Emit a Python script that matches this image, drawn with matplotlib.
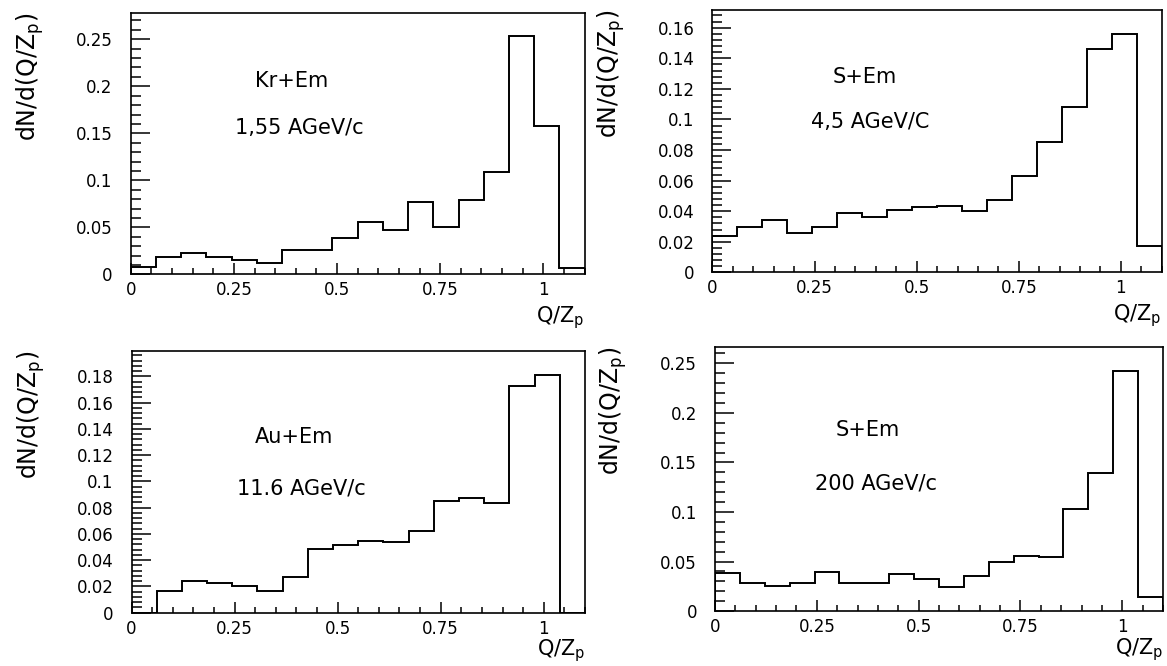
import matplotlib
matplotlib.use("Agg")
import matplotlib.pyplot as plt
from matplotlib.ticker import MultipleLocator, FuncFormatter
import numpy as np

plt.rcParams.update({"font.family": "DejaVu Sans", "mathtext.default": "regular"})

# 18 bins of Q/Z_p between 0 and 1.1
edges = np.linspace(0.0, 1.1, 19)

kr_155 = [0.008, 0.018, 0.023, 0.019, 0.015, 0.012, 0.026, 0.026, 0.039,
          0.056, 0.047, 0.077, 0.050, 0.079, 0.109, 0.253, 0.158, 0.007]
s_45 = [0.0236, 0.0297, 0.034, 0.0258, 0.0297, 0.0389, 0.0365, 0.0406, 0.0428,
        0.0437, 0.040, 0.0476, 0.0629, 0.0851, 0.108, 0.1458, 0.156, 0.017]
au_116 = [0.0, 0.0169, 0.024, 0.0228, 0.0207, 0.0167, 0.027, 0.0485, 0.0518,
          0.0546, 0.0538, 0.0624, 0.0852, 0.0877, 0.0839, 0.1724, 0.1812, 0.0]
s_200 = [0.0389, 0.0288, 0.025, 0.0288, 0.0399, 0.0288, 0.0288, 0.0376, 0.0328,
         0.0247, 0.0355, 0.0497, 0.0558, 0.0541, 0.1028, 0.1397, 0.242, 0.0142]

reactions = ["Kr+Em", "S+Em", "Au+Em", "S+Em"]
momenta = ["1,55 AGeV/c", "4,5 AGeV/C", "11.6 AGeV/c", "200 AGeV/c"]
series = [kr_155, s_45, au_116, s_200]
y_major = [0.05, 0.02, 0.02, 0.05]
y_minor = [0.01, 0.004, 0.004, 0.01]

# axes boxes [left, bottom, width, height] in figure fractions
boxes = [
    [0.112, 0.588, 0.389, 0.393],
    [0.6105, 0.591, 0.385, 0.394],
    [0.1127, 0.08, 0.3886, 0.393],
    [0.6127, 0.0825, 0.3839, 0.396],
]
# text positions (axes fractions, centred)
reac_pos = [(0.355, 0.737), (0.339, 0.746), (0.359, 0.673), (0.342, 0.687)]
mom_pos = [(0.371, 0.559), (0.351, 0.575), (0.374, 0.473), (0.359, 0.482)]
ylab_x = [-0.222, -0.226, -0.222, -0.228]
xlab_y = [-0.115, -0.115, -0.095, -0.095]

fig = plt.figure(figsize=(11.67, 6.66), dpi=100)
fmt = FuncFormatter(lambda v, pos: "%g" % round(v, 4))

for i in range(4):
    ax = fig.add_axes(boxes[i])
    vals = np.array(series[i])
    ax.stairs(vals, edges, color="black", lw=1.4, baseline=0)
    ax.set_xlim(0, 1.1)
    ax.set_ylim(0, 1.1 * vals.max())

    ax.xaxis.set_major_locator(MultipleLocator(0.25))
    ax.xaxis.set_minor_locator(MultipleLocator(0.05))
    ax.yaxis.set_major_locator(MultipleLocator(y_major[i]))
    ax.yaxis.set_minor_locator(MultipleLocator(y_minor[i]))
    ax.xaxis.set_major_formatter(fmt)
    ax.yaxis.set_major_formatter(fmt)

    ax.tick_params(which="both", direction="in", top=False, right=False,
                   labelsize=12, width=1.1, colors="black")
    ax.tick_params(axis="y", which="major", length=14, pad=13)
    ax.tick_params(axis="y", which="minor", length=7)
    ax.tick_params(axis="x", which="major", length=8, pad=5)
    ax.tick_params(axis="x", which="minor", length=4)
    for sp in ax.spines.values():
        sp.set_linewidth(1.2)

    ax.text(reac_pos[i][0], reac_pos[i][1], reactions[i], transform=ax.transAxes,
            ha="center", va="center", fontsize=15)
    ax.text(mom_pos[i][0], mom_pos[i][1], momenta[i], transform=ax.transAxes,
            ha="center", va="center", fontsize=15)
    ax.text(ylab_x[i], 1.0, "dN/d(Q/Z$_p$)", transform=ax.transAxes,
            rotation=90, ha="center", va="top", fontsize=17)
    ax.text(1.0, xlab_y[i], "Q/Z$_p$", transform=ax.transAxes,
            ha="right", va="top", fontsize=15)

fig.savefig("out.png", dpi=100)
